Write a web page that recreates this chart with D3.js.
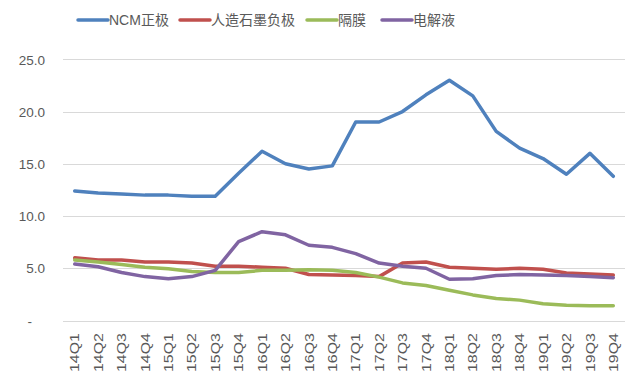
<html>
<head>
<meta charset="utf-8">
<style>
  body { margin: 0; background: #fff; }
  svg { display: block; font-family: "Liberation Sans", "Noto Sans CJK SC", sans-serif; }
  .grid line { stroke: #d9d9d9; stroke-width: 1; }
  .tick text { fill: #595959; }
  .series { fill: none; stroke-width: 3.5; stroke-linejoin: round; stroke-linecap: round; }
</style>
<script src="https://d3js.org/d3.v7.min.js"></script>
</head>
<body>
<svg width="640" height="374"></svg>
<script>
// categories
var quarters = ['14Q1','14Q2','14Q3','14Q4','15Q1','15Q2','15Q3','15Q4',
                '16Q1','16Q2','16Q3','16Q4','17Q1','17Q2','17Q3','17Q4',
                '18Q1','18Q2','18Q3','18Q4','19Q1','19Q2','19Q3','19Q4'];

// series values
var ncm      = [12.4,12.2,12.1,12.0,12.0,11.9,11.9,14.1,16.2,15.0,14.5,14.8,
                19.0,19.0,20.0,21.6,23.0,21.5,18.1,16.5,15.5,14.0,16.0,13.8];
var graphite = [6.0,5.8,5.8,5.6,5.6,5.5,5.2,5.2,5.1,5.0,4.4,4.35,
                4.3,4.2,5.5,5.6,5.1,5.0,4.9,5.0,4.9,4.55,4.45,4.35];
var separator= [5.8,5.6,5.35,5.1,4.95,4.7,4.6,4.6,4.8,4.8,4.85,4.8,
                4.6,4.15,3.6,3.35,2.9,2.45,2.1,1.95,1.6,1.45,1.4,1.4];
var electrolyte=[5.4,5.15,4.6,4.2,4.0,4.2,4.8,7.55,8.5,8.2,7.2,7.0,
                6.4,5.5,5.2,5.0,3.95,4.0,4.3,4.4,4.35,4.3,4.2,4.1];

// tick labels
var yTicks = [0, 5, 10, 15, 20, 25];
var seriesNames = ['NCM正极', '人造石墨负极', '隔膜', '电解液'];
var seriesColors = ['#4f81bd', '#c0504d', '#9bbb59', '#8064a2'];

var svg = d3.select('svg');
var x = d3.scaleBand().domain(quarters).range([63, 625]).padding(0);
var y = d3.scaleLinear().domain([0, 25]).range([320.5, 59.3]);

// gridlines
svg.append('g').attr('class', 'grid')
  .selectAll('line').data(yTicks).enter().append('line')
    .attr('x1', 63).attr('x2', 625)
    .attr('y1', function(d) { return Math.round(y(d)) + 0.5; })
    .attr('y2', function(d) { return Math.round(y(d)) + 0.5; });

// y axis
var yAxis = svg.append('g')
  .attr('transform', 'translate(45,0)')
  .call(d3.axisLeft(y).tickValues(yTicks).tickSize(0).tickPadding(0)
    .tickFormat(function(d) { return d === 0 ? '-' : d3.format('.1f')(d); }));
yAxis.select('.domain').remove();
yAxis.selectAll('text')
  .attr('font-size', '13.5px')
  .attr('dy', '0.35em')
  .attr('dx', function(d) { return d === 0 ? -13 : 0; });

// x axis
var xAxis = svg.append('g')
  .attr('transform', 'translate(0,320)')
  .call(d3.axisBottom(x).tickSize(0));
xAxis.select('.domain').remove();
xAxis.selectAll('text')
  .attr('font-size', '13px')
  .attr('text-anchor', 'end')
  .attr('transform', 'rotate(-90)')
  .attr('x', -13)
  .attr('y', 0)
  .attr('dy', '0.36em')
  .attr('textLength', 39)
  .attr('lengthAdjust', 'spacingAndGlyphs');

// lines
var line = d3.line()
  .x(function(d, i) { return x(quarters[i]) + x.bandwidth() / 2; })
  .y(function(d) { return y(d); });

var allSeries = [ncm, graphite, separator, electrolyte];
svg.selectAll('.series').data(allSeries).enter().append('path')
  .attr('class', 'series')
  .attr('stroke', function(d, i) { return seriesColors[i]; })
  .attr('d', line);

// legend
var legendX = [78, 180, 307, 382];
var lg = svg.selectAll('.legend').data(seriesNames).enter().append('g')
  .attr('class', 'legend')
  .attr('transform', function(d, i) { return 'translate(' + legendX[i] + ',20)'; });
lg.append('line')
  .attr('x1', 0).attr('x2', 30).attr('y1', 0).attr('y2', 0)
  .attr('stroke', function(d, i) { return seriesColors[i]; })
  .attr('stroke-width', 3.5).attr('stroke-linecap', 'round');
lg.append('text')
  .attr('x', 31).attr('y', 0).attr('dy', '0.35em')
  .attr('font-size', '14px').attr('fill', '#595959')
  .text(function(d) { return d; });
</script>
</body>
</html>
